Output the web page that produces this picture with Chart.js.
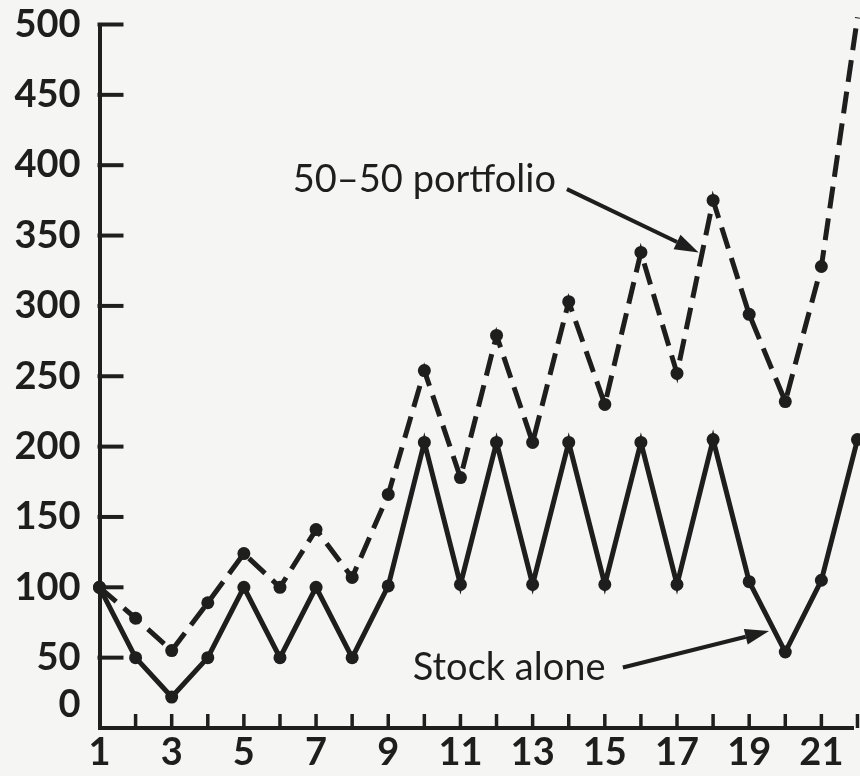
<!DOCTYPE html>
<html>
<head>
<meta charset="utf-8">
<script src="https://cdn.jsdelivr.net/npm/chart.js@4.4.1/dist/chart.umd.min.js"></script>
<style>
  body { margin: 0; background: #f5f5f3; }
  #wrap { width: 860px; height: 776px; }
</style>
</head>
<body>
<div id="wrap"><canvas id="myChart" width="860" height="776"></canvas></div>
<script>
// periods 1..22
const periods = [1,2,3,4,5,6,7,8,9,10,11,12,13,14,15,16,17,18,19,20,21,22];
// values
const stockAlone = [100,50,22,50,100,50,100,50,101,203,102,203,102,203,102,203,102,205,104,54,105,205];
const portfolio = [100,78,55,89,124,100,141,107,166,254,178,279,203,303,230,338,252,375,294,232,328,505];

const yTicks = [0,50,100,150,200,250,300,350,400,450,500];
const xTicks = [1,3,5,7,9,11,13,15,17,19,21];
const xMinorTicks = [2,3,4,5,6,7,8,9,10,11,12,13,14,15,16,17,18,19,20,21,22];

// callouts, in data units
const callouts = [
  { text: '50\u201350 portfolio', x: 10.0, y: 390, from: [13.95, 383], to: [17.6, 338] },
  { text: 'Stock alone', x: 12.35, y: 43, from: [15.5, 43], to: [19.55, 69] }
];

const ink = '#1e1e1e';
const fontName = 'Lato';

const innerTicks = {
  id: 'innerTicks',
  afterDraw(chart) {
    const ctx = chart.ctx;
    const xs = chart.scales.x, ys = chart.scales.y;
    const a = chart.chartArea;
    ctx.save();
    ctx.strokeStyle = ink;
    ctx.lineCap = 'butt';
    ctx.lineWidth = 4;
    yTicks.forEach(v => {
      if (v === 0) return;
      const py = ys.getPixelForValue(v);
      ctx.beginPath();
      ctx.moveTo(a.left - 2, py);
      ctx.lineTo(a.left + 24, py);
      ctx.stroke();
    });
    ctx.lineWidth = 3.5;
    xMinorTicks.forEach(v => {
      const px = xs.getPixelForValue(v);
      ctx.beginPath();
      ctx.moveTo(px, a.bottom);
      ctx.lineTo(px, a.bottom - 14);
      ctx.stroke();
    });

    // callout text and arrows
    ctx.fillStyle = ink;
    ctx.font = '38px ' + fontName;
    ctx.textAlign = 'center';
    ctx.textBaseline = 'middle';
    callouts.forEach(c => {
      ctx.fillText(c.text, xs.getPixelForValue(c.x), ys.getPixelForValue(c.y));
      const x0 = xs.getPixelForValue(c.from[0]), y0 = ys.getPixelForValue(c.from[1]);
      const x1 = xs.getPixelForValue(c.to[0]), y1 = ys.getPixelForValue(c.to[1]);
      const ang = Math.atan2(y1 - y0, x1 - x0);
      const hl = 24, hw = 8;
      const bx = x1 - hl * Math.cos(ang), by = y1 - hl * Math.sin(ang);
      ctx.lineWidth = 4;
      ctx.beginPath();
      ctx.moveTo(x0, y0);
      ctx.lineTo(bx, by);
      ctx.stroke();
      ctx.beginPath();
      ctx.moveTo(x1, y1);
      ctx.lineTo(bx + hw * Math.sin(ang), by - hw * Math.cos(ang));
      ctx.lineTo(bx - hw * Math.sin(ang), by + hw * Math.cos(ang));
      ctx.closePath();
      ctx.fill();
    });
    ctx.restore();
  }
};

const paper = {
  id: 'paper',
  beforeDraw(chart) {
    const ctx = chart.ctx;
    ctx.save();
    ctx.fillStyle = '#f5f5f3';
    ctx.fillRect(0, 0, chart.width, chart.height);
    ctx.restore();
  }
};

function setup() {
  const ctx = document.getElementById('myChart');
  Chart.defaults.font.family = fontName;
  Chart.defaults.color = ink;

  new Chart(ctx, {
    type: 'line',
    data: {
      datasets: [
        {
          label: '50-50 portfolio',
          data: periods.map((p, i) => ({ x: p, y: portfolio[i] })),
          borderColor: ink,
          backgroundColor: ink,
          borderWidth: 5,
          borderDash: [22, 10],
          pointRadius: 6.5,
          pointBorderWidth: 0,
          tension: 0,
          clip: false
        },
        {
          label: 'Stock alone',
          data: periods.map((p, i) => ({ x: p, y: stockAlone[i] })),
          borderColor: ink,
          backgroundColor: ink,
          borderWidth: 5,
          pointRadius: 6.5,
          pointBorderWidth: 0,
          tension: 0,
          clip: false
        }
      ]
    },
    options: {
      responsive: false,
      animation: false,
      layout: { padding: { top: 24.5, right: 0, left: 0, bottom: 0 } },
      plugins: { legend: { display: false }, tooltip: { enabled: false } },
      scales: {
        x: {
          type: 'linear',
          min: 1,
          max: 21.89,
          afterBuildTicks: s => { s.ticks = xTicks.map(v => ({ value: v })); },
          afterFit: s => { s.height = 48; s.paddingLeft = 0; s.paddingRight = 0; },
          grid: { display: false, drawTicks: false, tickLength: 0 },
          border: { display: true, width: 4, color: ink },
          ticks: {
            padding: 2,
            maxRotation: 0,
            autoSkip: false,
            font: { size: 38, weight: 'bold' },
            color: ink
          }
        },
        y: {
          min: 0,
          max: 500,
          afterBuildTicks: s => { s.ticks = yTicks.map(v => ({ value: v })); },
          afterFit: s => { s.width = 99.5; s.paddingTop = 0; s.paddingBottom = 0; },
          grid: { display: false, drawTicks: false, tickLength: 0 },
          border: { display: true, width: 4, color: ink },
          ticks: {
            padding: 19,
            autoSkip: false,
            font: { size: 38, weight: 'bold' },
            color: ink,
            callback: v => v === 0 ? ['0', ''] : String(v)
          }
        }
      }
    },
    plugins: [paper, innerTicks]
  });
}

window.onload = setup;
</script>
</body>
</html>
